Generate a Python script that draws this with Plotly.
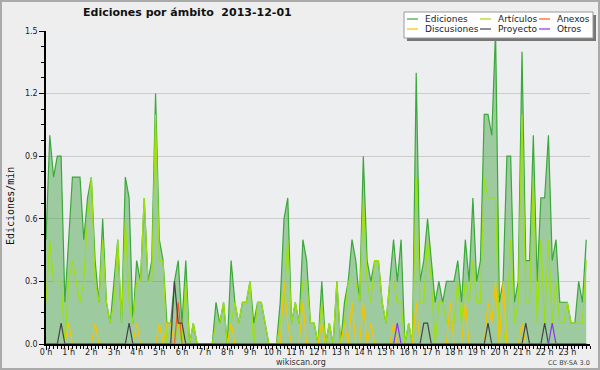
import plotly.graph_objects as go

# ---- data: edits per minute, averaged over 10-minute slots (144 slots = 24 h) ----
ediciones = [
    0.5, 1.0, 0.8, 0.9, 0.9, 0.2,  0.5, 0.8, 0.8, 0.8, 0.5, 0.7,
    0.8, 0.4, 0.2, 0.6, 0.2, 0.1,  0.3, 0.5, 0.1, 0.8, 0.7, 0.1,
    0.4, 0.3, 0.7, 0.3, 0.4, 1.2,  0.5, 0.4, 0.1, 0.1, 0.3, 0.4,
    0.1, 0.4, 0.0, 0.1, 0.0, 0.0,  0.0, 0.0, 0.0, 0.2, 0.1, 0.2,
    0.0, 0.4, 0.2, 0.1, 0.2, 0.2,  0.3, 0.1, 0.2, 0.2, 0.1, 0.0,
    0.0, 0.0, 0.2, 0.6, 0.7, 0.1,  0.2, 0.1, 0.5, 0.4, 0.1, 0.1,
    0.0, 0.3, 0.0, 0.1, 0.0, 0.3,  0.0, 0.2, 0.3, 0.5, 0.4, 0.2,
    0.9, 0.4, 0.3, 0.4, 0.4, 0.2,  0.1, 0.3, 0.5, 0.3, 0.5, 0.0,
    0.1, 0.0, 1.3, 0.3, 0.4, 0.6,  0.4, 0.2, 0.3, 0.2, 0.3, 0.3,
    0.3, 0.4, 0.2, 0.5, 0.3, 0.7,  0.3, 0.4, 1.1, 1.1, 1.0, 1.5,
    0.2, 0.3, 0.9, 0.9, 0.2, 0.3,  1.4, 0.4, 0.4, 1.0, 0.3, 0.7,
    0.7, 1.0, 0.4, 0.5, 0.2, 0.2,  0.2, 0.1, 0.1, 0.3, 0.2, 0.5,
]
articulos = [
    0.2, 0.5, 0.3, 0.3, 0.3, 0.0,  0.3, 0.4, 0.3, 0.2, 0.3, 0.6,
    0.8, 0.3, 0.2, 0.5, 0.2, 0.1,  0.2, 0.5, 0.1, 0.6, 0.2, 0.1,
    0.3, 0.3, 0.7, 0.3, 0.3, 1.1,  0.4, 0.4, 0.0, 0.0, 0.0, 0.1,
    0.0, 0.3, 0.0, 0.1, 0.0, 0.0,  0.0, 0.0, 0.0, 0.1, 0.1, 0.2,
    0.0, 0.1, 0.2, 0.1, 0.2, 0.2,  0.3, 0.0, 0.2, 0.2, 0.1, 0.0,
    0.0, 0.0, 0.1, 0.2, 0.5, 0.1,  0.2, 0.1, 0.3, 0.3, 0.1, 0.1,
    0.0, 0.2, 0.0, 0.1, 0.0, 0.3,  0.0, 0.1, 0.3, 0.3, 0.3, 0.2,
    0.7, 0.3, 0.2, 0.4, 0.4, 0.2,  0.1, 0.3, 0.3, 0.2, 0.2, 0.0,
    0.1, 0.0, 0.8, 0.2, 0.2, 0.5,  0.3, 0.0, 0.2, 0.2, 0.1, 0.1,
    0.1, 0.3, 0.1, 0.3, 0.2, 0.4,  0.2, 0.2, 0.8, 0.7, 0.7, 0.7,
    0.0, 0.0, 0.1, 0.5, 0.1, 0.2,  1.1, 0.2, 0.2, 0.8, 0.1, 0.5,
    0.1, 0.5, 0.1, 0.3, 0.1, 0.1,  0.2, 0.1, 0.1, 0.1, 0.1, 0.4,
]
discusiones = [
    0.0, 0.0, 0.0, 0.0, 0.0, 0.0,  0.1, 0.0, 0.0, 0.0, 0.0, 0.0,
    0.0, 0.1, 0.0, 0.0, 0.0, 0.0,  0.0, 0.0, 0.0, 0.0, 0.0, 0.0,
    0.1, 0.0, 0.0, 0.0, 0.0, 0.0,  0.1, 0.0, 0.1, 0.1, 0.0, 0.0,
    0.0, 0.0, 0.0, 0.0, 0.0, 0.0,  0.0, 0.0, 0.0, 0.0, 0.0, 0.0,
    0.0, 0.1, 0.0, 0.0, 0.0, 0.0,  0.0, 0.0, 0.0, 0.0, 0.0, 0.0,
    0.0, 0.0, 0.0, 0.3, 0.1, 0.0,  0.0, 0.0, 0.2, 0.0, 0.0, 0.0,
    0.0, 0.1, 0.0, 0.0, 0.0, 0.0,  0.0, 0.1, 0.0, 0.2, 0.0, 0.0,
    0.2, 0.0, 0.1, 0.0, 0.0, 0.0,  0.0, 0.0, 0.1, 0.0, 0.0, 0.0,
    0.0, 0.0, 0.2, 0.0, 0.0, 0.0,  0.0, 0.0, 0.0, 0.0, 0.0, 0.2,
    0.0, 0.0, 0.0, 0.2, 0.0, 0.0,  0.0, 0.0, 0.0, 0.2, 0.1, 0.3,
    0.0, 0.3, 0.0, 0.0, 0.0, 0.0,  0.1, 0.0, 0.0, 0.0, 0.0, 0.0,
    0.0, 0.0, 0.0, 0.0, 0.0, 0.0,  0.0, 0.0, 0.0, 0.0, 0.0, 0.0,
]
proyecto = [
    0.0, 0.0, 0.0, 0.0, 0.1, 0.0,  0.0, 0.0, 0.0, 0.0, 0.0, 0.0,
    0.0, 0.0, 0.0, 0.0, 0.0, 0.0,  0.0, 0.0, 0.0, 0.0, 0.1, 0.0,
    0.0, 0.0, 0.0, 0.0, 0.0, 0.0,  0.0, 0.0, 0.0, 0.0, 0.3, 0.1,
    0.1, 0.0, 0.0, 0.0, 0.0, 0.0,  0.0, 0.0, 0.0, 0.0, 0.0, 0.0,
    0.0, 0.0, 0.0, 0.0, 0.0, 0.0,  0.0, 0.0, 0.0, 0.0, 0.0, 0.0,
    0.0, 0.0, 0.0, 0.0, 0.0, 0.0,  0.0, 0.0, 0.0, 0.0, 0.0, 0.0,
    0.0, 0.0, 0.0, 0.0, 0.0, 0.0,  0.0, 0.0, 0.0, 0.0, 0.0, 0.0,
    0.0, 0.0, 0.0, 0.0, 0.0, 0.0,  0.0, 0.0, 0.0, 0.0, 0.0, 0.0,
    0.0, 0.0, 0.0, 0.0, 0.1, 0.1,  0.0, 0.0, 0.0, 0.0, 0.0, 0.0,
    0.0, 0.0, 0.0, 0.0, 0.0, 0.0,  0.0, 0.0, 0.0, 0.1, 0.0, 0.0,
    0.0, 0.0, 0.0, 0.0, 0.0, 0.0,  0.0, 0.1, 0.0, 0.0, 0.0, 0.0,
    0.1, 0.0, 0.0, 0.0, 0.0, 0.0,  0.0, 0.0, 0.0, 0.0, 0.0, 0.0,
]
anexos = [0.0] * 35 + [0.2] + [0.0] * 108
otros = [0.0] * 93 + [0.1] + [0.0] * 40 + [0.1] + [0.0] * 9

slot_minutes = [i * 10 for i in range(144)]
hour_ticks = [h * 60 for h in range(24)]
hour_labels = [f"{h} h" for h in range(24)]

series = [
    ("Ediciones", ediciones, "#3aa83a"),
    ("Artículos", articulos, "#9de010"),
    ("Discusiones", discusiones, "#f5c400"),
    ("Anexos", anexos, "#ff5a1a"),
    ("Proyecto", proyecto, "#444444"),
    ("Otros", otros, "#8a35ee"),
]
colors = {name: c for name, _, c in series}

fig = go.Figure()
for name, vals, col in series:
    kw = {}
    if name == "Ediciones":
        kw = dict(fill="tozeroy", fillcolor="rgba(60,160,60,0.45)")
    fig.add_trace(go.Scatter(x=slot_minutes, y=vals, mode="lines", name=name,
                             line=dict(color=col, width=1.2), showlegend=False, **kw))

# plot-area geometry in pixels (for placing decorations)
L, R, T, B = 46, 590, 31, 344
def px(x):
    return (x - L) / (R - L)
def py(y):
    return (B - y) / (B - T)

shapes = []
annotations = []
# outer frame
shapes.append(dict(type="rect", xref="paper", yref="paper", x0=px(1), x1=px(599), y0=py(1), y1=py(369),
                   line=dict(color="#aaaaaa", width=2), fillcolor="rgba(0,0,0,0)", layer="above"))
# legend box with shadow
shapes.append(dict(type="rect", xref="paper", yref="paper", x0=px(407), x1=px(596), y0=py(15), y1=py(41),
                   line=dict(width=0), fillcolor="#777777", layer="above"))
shapes.append(dict(type="rect", xref="paper", yref="paper", x0=px(404), x1=px(593), y0=py(12), y1=py(38),
                   line=dict(color="#999999", width=1), fillcolor="#ffffff", layer="above"))
legend_layout = [
    ("Ediciones", 407, 19), ("Artículos", 480, 19), ("Anexos", 539, 19),
    ("Discusiones", 407, 29), ("Proyecto", 480, 29), ("Otros", 539, 29),
]
for name, lx, ly in legend_layout:
    shapes.append(dict(type="line", xref="paper", yref="paper", x0=px(lx), x1=px(lx + 11), y0=py(ly), y1=py(ly),
                       line=dict(color=colors[name], width=1.2), layer="above"))
    annotations.append(dict(text=name, xref="paper", yref="paper", x=px(lx + 16), y=py(ly),
                            xanchor="left", yanchor="middle", showarrow=False,
                            font=dict(family="DejaVu Sans", size=9, color="#222222")))

annotations += [
    dict(text="<b>Ediciones por ámbito  2013-12-01</b>", xref="paper", yref="paper", x=px(187.5), y=py(13),
         xanchor="center", yanchor="middle", showarrow=False,
         font=dict(family="DejaVu Sans", size=11, color="#111111")),
    dict(text="Ediciones/min", xref="paper", yref="paper", x=px(10), y=py(206), textangle=-90,
         xanchor="center", yanchor="middle", showarrow=False,
         font=dict(family="DejaVu Sans Mono", size=10, color="#111111")),
    dict(text="wikiscan.org", xref="paper", yref="paper", x=px(300.5), y=py(362),
         xanchor="center", yanchor="middle", showarrow=False,
         font=dict(family="DejaVu Sans", size=8, color="#333333")),
    dict(text="CC BY-SA 3.0", xref="paper", yref="paper", x=px(568.5), y=py(363),
         xanchor="center", yanchor="middle", showarrow=False,
         font=dict(family="DejaVu Sans", size=6.5, color="#444444")),
]

fig.update_layout(
    width=600, height=370,
    margin=dict(l=L, r=600 - R, t=T, b=370 - B, pad=0),
    paper_bgcolor="#eeeeee", plot_bgcolor="#edeef0",
    font=dict(family="DejaVu Sans", size=8, color="#222222"),
    shapes=shapes, annotations=annotations,
    showlegend=False,
)
fig.update_xaxes(
    range=[0, 1440], tickmode="array", tickvals=hour_ticks, ticktext=hour_labels,
    ticks="outside", ticklen=4, tickcolor="#000000", tickwidth=1, ticklabelstandoff=-4,
    minor=dict(dtick=10, tick0=0, ticks="outside", ticklen=3, tickcolor="#000000", tickwidth=1, showgrid=False),
    showline=True, linecolor="#000000", linewidth=1.5, showgrid=False, zeroline=False,
    tickfont=dict(family="DejaVu Sans", size=8, color="#222222"), fixedrange=True,
)
fig.update_yaxes(
    range=[0, 1.5], tick0=0, dtick=0.3, tickformat=".1f",
    ticks="outside", ticklen=5, tickcolor="#000000", tickwidth=1,
    minor=dict(dtick=0.075, tick0=0, ticks="outside", ticklen=3, tickcolor="#000000", tickwidth=1, showgrid=False),
    showline=True, linecolor="#000000", linewidth=1.5, showgrid=True, gridcolor="#cccccc", gridwidth=1,
    zeroline=False, tickfont=dict(family="DejaVu Sans", size=8, color="#222222"), fixedrange=True,
)

fig.write_html("out.html", config={"displayModeBar": False},
               post_script="document.body.style.margin='0';document.body.style.padding='0';")
